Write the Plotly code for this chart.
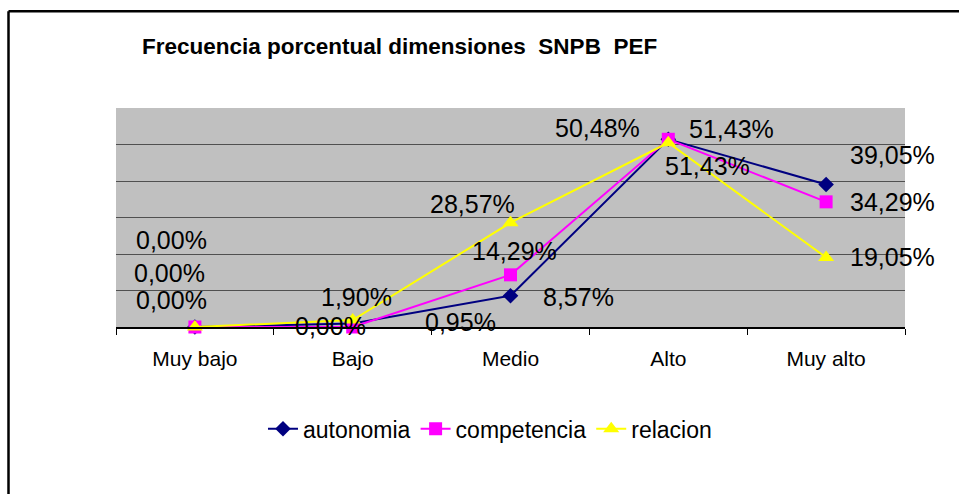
import plotly.graph_objects as go

categories = ["Muy bajo", "Bajo", "Medio", "Alto", "Muy alto"]
autonomia = [0.00, 0.95, 8.57, 51.43, 39.05]
competencia = [0.00, 0.00, 14.29, 51.43, 34.29]
relacion = [0.00, 1.90, 28.57, 50.48, 19.05]

series = [
    ("autonomia", autonomia, "#000080", "diamond", 12),
    ("competencia", competencia, "#FF00FF", "square", 13),
    ("relacion", relacion, "#FFFF00", "triangle-up", 14),
]

# label offsets (pixels: dx right, dy up) per series per category
label_offsets = {
    "autonomia":   [(-23, 87), (108, 2), (68, -1), (63, 10), (66, 29)],
    "competencia": [(-25, 54), (-22, 1), (4, 24), (39, -27), (66, 0)],
    "relacion":    [(-23, 27), (4, 23), (-38, 19), (-71, 15), (66, 0)],
}

def fmt(v):
    return f"{v:.2f}".replace(".", ",") + "%"

FONT = "Liberation Sans, Arial, sans-serif"
W, H = 959, 494

fig = go.Figure()
for name, vals, color, sym, size in series:
    fig.add_trace(go.Scatter(
        x=categories, y=vals, name=name, mode="lines+markers",
        line=dict(color=color, width=2),
        marker=dict(symbol=sym, size=size, color=color),
        cliponaxis=False,
    ))

annotations = []
for name, vals, color, sym, size in series:
    for i, (c, v) in enumerate(zip(categories, vals)):
        dx, dy = label_offsets[name][i]
        annotations.append(dict(
            x=c, y=v, xref="x", yref="y", text=fmt(v), showarrow=False,
            xshift=dx, yshift=dy, xanchor="center", yanchor="middle",
            font=dict(family=FONT, size=25, color="black"),
        ))

fig.update_layout(
    width=W, height=H,
    margin=dict(l=116, r=54, t=108, b=167),
    paper_bgcolor="white", plot_bgcolor="#C0C0C0",
    title=dict(
        text="Frecuencia porcentual dimensiones\u00a0 SNPB\u00a0 PEF",
        x=142 / W, xanchor="left", xref="container",
        y=1 - 46 / H, yanchor="middle", yref="container",
        font=dict(family=FONT, size=22.5, color="black", weight="bold"),
    ),
    xaxis=dict(
        type="category", range=[-0.5, 4.5], showgrid=False,
        showline=True, linecolor="black", linewidth=1.5,
        ticks="outside", tickson="boundaries", ticklen=6, tickcolor="black",
        ticklabelstandoff=12,
        tickfont=dict(family=FONT, size=21, color="black"),
        zeroline=False, fixedrange=True,
    ),
    yaxis=dict(
        range=[0, 60], tickvals=[10, 20, 30, 40, 50], showticklabels=False,
        showgrid=True, gridcolor="#505050", gridwidth=1,
        zeroline=False, showline=False, ticks="", fixedrange=True,
    ),
    legend=dict(
        orientation="h", x=0.474, xanchor="center", y=-0.465, yanchor="middle",
        font=dict(family=FONT, size=23, color="black"),
        bgcolor="rgba(0,0,0,0)",
    ),
    annotations=annotations,
    shapes=[
        dict(type="line", xref="paper", yref="paper",
             x0=(8.5 - 116) / 789, x1=(8.5 - 116) / 789,
             y0=-1.5, y1=(327 - 11.3) / 219,
             line=dict(color="black", width=2.5)),
        dict(type="line", xref="paper", yref="paper",
             x0=(8.5 - 116) / 789, x1=1.5,
             y0=(327 - 11.3) / 219, y1=(327 - 11.3) / 219,
             line=dict(color="black", width=2.5)),
    ],
)

fig.write_html(
    "out.html",
    config={"displayModeBar": False},
    post_script="document.body.style.margin='0';document.body.style.overflow='hidden';",
)
